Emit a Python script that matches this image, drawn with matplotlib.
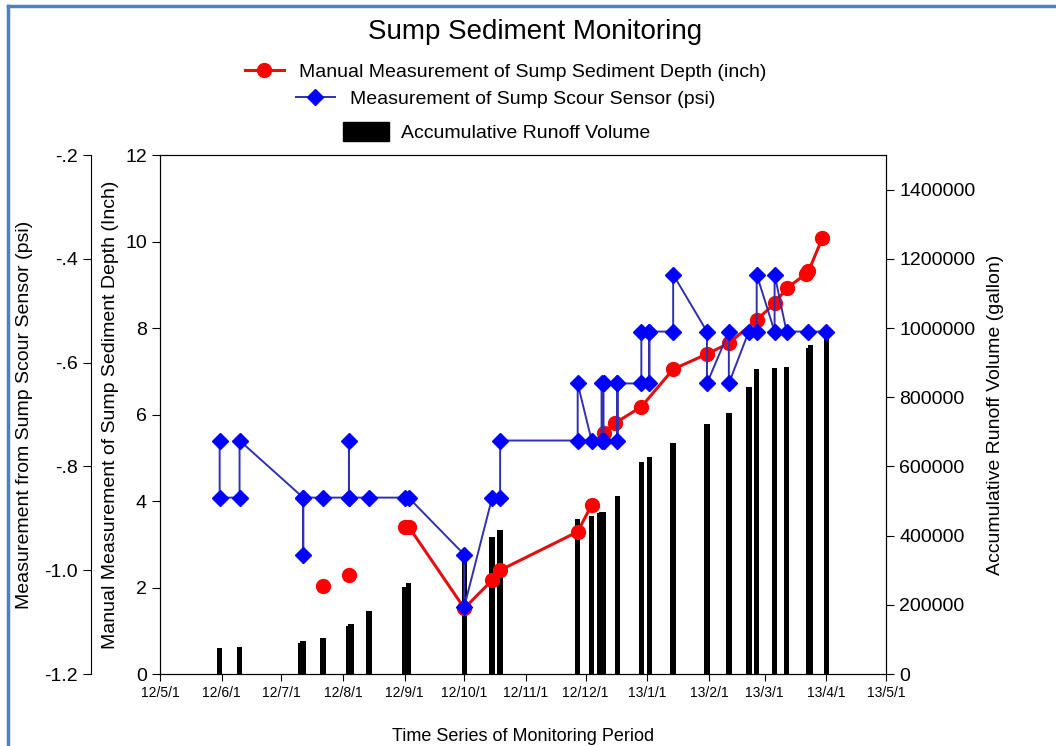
import matplotlib
matplotlib.use("Agg")
import matplotlib.pyplot as plt
import matplotlib.dates as mdates
from matplotlib.lines import Line2D
from matplotlib.patches import Patch
from matplotlib.ticker import FuncFormatter
import pandas as pd

plt.rcParams['font.family'] = ['Liberation Sans', 'DejaVu Sans']

# runoff volume (gallon)
bar_dates = ['2012-05-31', '2012-06-10', '2012-07-11', '2012-07-12', '2012-07-22',
             '2012-08-04', '2012-08-05', '2012-08-14', '2012-09-01', '2012-09-03',
             '2012-10-01', '2012-10-15', '2012-10-19', '2012-11-27', '2012-12-04',
             '2012-12-08', '2012-12-09', '2012-12-10', '2012-12-17', '2012-12-29',
             '2013-01-02', '2013-01-14', '2013-01-31', '2013-02-11', '2013-02-21',
             '2013-02-25', '2013-03-06', '2013-03-12', '2013-03-23', '2013-03-24',
             '2013-04-01']
runoff = [75000, 79000, 90000, 95000, 103000,
          140000, 145000, 182000, 251000, 262000,
          335000, 396000, 415000, 448000, 456000,
          465000, 467000, 468000, 516000, 612000,
          626000, 669000, 724000, 754000, 830000,
          881000, 885000, 888000, 943000, 950000,
          981000]

# manual sediment depth (inch), group = connected line piece
red_dates = ['2012-07-22', '2012-08-04',
             '2012-09-01', '2012-09-03', '2012-10-01', '2012-10-15', '2012-10-19',
             '2012-11-27', '2012-12-04',
             '2012-12-10', '2012-12-16', '2012-12-29', '2013-01-14', '2013-01-31',
             '2013-02-11', '2013-02-25', '2013-03-06', '2013-03-12', '2013-03-22',
             '2013-03-23', '2013-03-30']
depth = [2.04, 2.29,
         3.41, 3.41, 1.52, 2.17, 2.40,
         3.29, 3.91,
         5.58, 5.81, 6.18, 7.05, 7.40,
         7.65, 8.19, 8.57, 8.92, 9.26,
         9.31, 10.08]
red_group = [0, 1,
             2, 2, 2, 2, 2,
             2, 2,
             3, 3, 3, 3, 3,
             3, 3, 3, 3, 3,
             3, 3]

# scour sensor (psi)
blue_dates = ['2012-05-31', '2012-05-31', '2012-06-10', '2012-06-10', '2012-07-12',
              '2012-07-12', '2012-07-12', '2012-07-22', '2012-08-04', '2012-08-04',
              '2012-08-04', '2012-08-14', '2012-09-01', '2012-09-03', '2012-10-01',
              '2012-10-01', '2012-10-15', '2012-10-19', '2012-10-19', '2012-11-27',
              '2012-11-27', '2012-12-04', '2012-12-09', '2012-12-09', '2012-12-10',
              '2012-12-10', '2012-12-17', '2012-12-17', '2012-12-17', '2012-12-29',
              '2012-12-29', '2013-01-02', '2013-01-02', '2013-01-02', '2013-01-14',
              '2013-01-14', '2013-01-31', '2013-01-31', '2013-02-11', '2013-02-11',
              '2013-02-21', '2013-02-25', '2013-02-25', '2013-03-06', '2013-03-06',
              '2013-03-12', '2013-03-23', '2013-04-01']
psi = [-0.75, -0.86, -0.86, -0.75, -0.86,
       -0.97, -0.86, -0.86, -0.86, -0.75,
       -0.86, -0.86, -0.86, -0.86, -0.97,
       -1.07, -0.86, -0.86, -0.75, -0.75,
       -0.64, -0.75, -0.75, -0.64, -0.75,
       -0.64, -0.64, -0.75, -0.64, -0.64,
       -0.54, -0.54, -0.64, -0.54, -0.54,
       -0.43, -0.54, -0.64, -0.54, -0.64,
       -0.54, -0.54, -0.43, -0.54, -0.43,
       -0.54, -0.54, -0.54]

month_ticks = pd.date_range('2012-05-01', '2013-05-01', freq='MS')

fig = plt.figure(figsize=(10.56, 7.46), dpi=100)
ax = fig.add_axes([0.1515, 0.0965, 0.6875, 0.6955])
ax_in = ax.twinx()
ax_psi = ax.twinx()

# bars on the right hand axis
ax.bar(pd.to_datetime(bar_dates), runoff, width=2.8, color='black', zorder=2)
ax.set_ylim(0, 1500000)
ax.set_yticks(range(0, 1400001, 200000))
ax.yaxis.set_major_formatter(FuncFormatter(lambda v, p: '%d' % v))
ax.yaxis.tick_right()
ax.yaxis.set_label_position('right')
ax.set_ylabel('Accumulative Runoff Volume (gallon)', fontsize=14, labelpad=8)
ax.set_xlim(pd.Timestamp('2012-05-01'), pd.Timestamp('2013-05-01'))
ax.set_xticks(month_ticks)
ax.xaxis.set_major_formatter(FuncFormatter(
    lambda v, p: '{}/{}/{}'.format(mdates.num2date(v).strftime('%y'),
                                  mdates.num2date(v).month, mdates.num2date(v).day)))
ax.tick_params(axis='x', labelsize=10, direction='out', length=5)
ax.tick_params(axis='y', labelsize=14, direction='out', length=6)
ax.set_xlabel('Time Series of Monitoring Period', fontsize=13, labelpad=20)

# depth on the inner left axis
ax_in.yaxis.tick_left()
ax_in.yaxis.set_label_position('left')
for g in sorted(set(red_group)):
    d = [pd.Timestamp(x) for x, k in zip(red_dates, red_group) if k == g]
    v = [y for y, k in zip(depth, red_group) if k == g]
    ax_in.plot(d, v, color='#e01010', lw=2.2, marker='o', ms=10,
               markerfacecolor='#ff0000', markeredgecolor='#ff0000')
ax_in.set_ylim(0, 12)
ax_in.set_yticks(range(0, 13, 2))
ax_in.tick_params(axis='y', labelsize=14, direction='out', length=6)
ax_in.set_ylabel('Manual Measurement of Sump Sediment Depth (Inch)', fontsize=14, labelpad=4)

# scour sensor on the outer left axis
ax_psi.yaxis.tick_left()
ax_psi.yaxis.set_label_position('left')
ax_psi.spines['left'].set_position(('axes', -0.095))
ax_psi.spines['right'].set_visible(False)
ax_psi.spines['top'].set_visible(False)
ax_psi.spines['bottom'].set_visible(False)
ax_psi.plot(pd.to_datetime(blue_dates), psi, color='#3030b0', lw=1.4, marker='D', ms=8,
            markerfacecolor='#0000ff', markeredgecolor='#0000ff')
ax_psi.set_ylim(-1.2, -0.2)
ax_psi.set_yticks([-1.2, -1.0, -0.8, -0.6, -0.4, -0.2])
ax_psi.set_yticklabels(['-1.2', '-1.0', '-.8', '-.6', '-.4', '-.2'])
ax_psi.tick_params(axis='y', labelsize=14, direction='out', length=6)
ax_psi.set_ylabel('Measurement from Sump Scour Sensor (psi)', fontsize=14, labelpad=8)

fig.suptitle('Sump Sediment Monitoring', fontsize=20, x=0.507, y=0.975)

h_red = Line2D([], [], color='#e01010', lw=2.2, marker='o', ms=10, markerfacecolor='#ff0000',
               markeredgecolor='#ff0000')
h_blue = Line2D([], [], color='#3030b0', lw=1.4, marker='D', ms=8, markerfacecolor='#0000ff',
                markeredgecolor='#0000ff')
h_bar = Patch(color='black')
fig.legend([h_red], ['Manual Measurement of Sump Sediment Depth (inch)'], loc='center',
           bbox_to_anchor=(0.479, 0.9035), frameon=False, fontsize=14, handlelength=2,
           borderpad=0, handletextpad=0.8)
fig.legend([h_blue], ['Measurement of Sump Scour Sensor (psi)'], loc='center',
           bbox_to_anchor=(0.479, 0.867), frameon=False, fontsize=14, handlelength=2,
           borderpad=0, handletextpad=0.8)
fig.legend([h_bar], ['Accumulative Runoff Volume'], loc='center',
           bbox_to_anchor=(0.470, 0.823), frameon=False, fontsize=14, handlelength=2.4,
           handleheight=1.1, borderpad=0, handletextpad=0.6)

# blue frame lines on the left and top edge
fig.add_artist(Line2D([0.008, 0.008], [0, 0.992], color='#4f81bd', lw=2.5))
fig.add_artist(Line2D([0.008, 1.0], [0.992, 0.992], color='#4f81bd', lw=2.5))

fig.savefig('out.png', dpi=100)
